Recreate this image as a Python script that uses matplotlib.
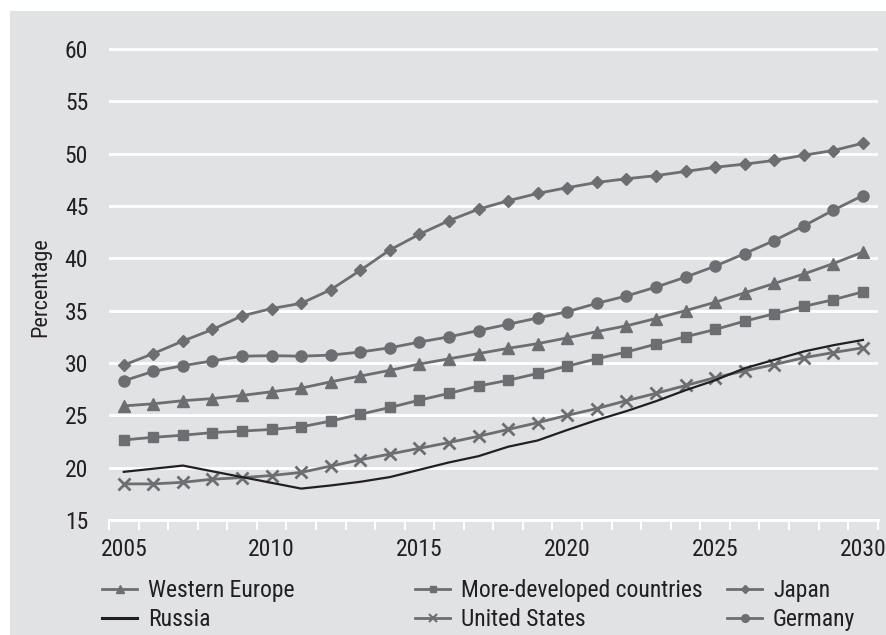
import matplotlib
matplotlib.use('Agg')
import matplotlib.pyplot as plt
from matplotlib.patches import Rectangle
from matplotlib.lines import Line2D
from matplotlib import font_manager
import numpy as np

years = list(range(2005, 2031))
western_europe = [25.9, 26.1, 26.4, 26.6, 26.9, 27.25, 27.6, 28.2, 28.75, 29.3, 29.9, 30.4, 30.9,
                  31.4, 31.85, 32.4, 33.0, 33.55, 34.25, 35.0, 35.8, 36.7, 37.6, 38.5, 39.5, 40.6]
more_developed = [22.65, 22.9, 23.1, 23.35, 23.5, 23.65, 23.9, 24.45, 25.1, 25.75, 26.45, 27.1, 27.8,
                  28.35, 29.0, 29.7, 30.4, 31.05, 31.8, 32.5, 33.2, 34.0, 34.7, 35.4, 36.05, 36.8]
japan = [29.8, 30.9, 32.1, 33.2, 34.5, 35.2, 35.7, 37.0, 38.85, 40.8, 42.3, 43.6, 44.7,
         45.5, 46.2, 46.75, 47.25, 47.6, 47.9, 48.3, 48.7, 49.0, 49.35, 49.85, 50.3, 51.0]
russia = [19.6, 19.9, 20.2, 19.65, 19.1, 18.55, 18.0, 18.3, 18.65, 19.1, 19.8, 20.5, 21.1,
          22.0, 22.6, 23.6, 24.55, 25.4, 26.35, 27.4, 28.35, 29.5, 30.3, 31.1, 31.7, 32.2]
united_states = [18.45, 18.45, 18.6, 18.9, 19.05, 19.25, 19.55, 20.15, 20.75, 21.3, 21.85, 22.4, 23.0,
                 23.65, 24.3, 25.0, 25.65, 26.4, 27.1, 27.85, 28.6, 29.25, 29.85, 30.5, 31.0, 31.45]
germany = [28.3, 29.2, 29.75, 30.2, 30.65, 30.7, 30.65, 30.75, 31.05, 31.45, 32.0, 32.5, 33.1,
           33.7, 34.3, 34.9, 35.7, 36.4, 37.25, 38.2, 39.25, 40.45, 41.7, 43.1, 44.6, 46.0]
y_ticks = [15, 20, 25, 30, 35, 40, 45, 50, 55, 60]
x_labels = [2005, 2010, 2015, 2020, 2025, 2030]
y_label = 'Percentage'

# choose a narrow sans font if one is installed
names = {f.name for f in font_manager.fontManager.ttflist}
narrow = None
for cand in ['Liberation Sans Narrow', 'Arial Narrow', 'Roboto Condensed',
             'Open Sans Condensed', 'Noto Sans Condensed']:
    if cand in names:
        narrow = cand
        break
if narrow is not None:
    plt.rcParams['font.family'] = [narrow, 'DejaVu Sans']
    FS = 17
else:
    plt.rcParams['font.family'] = ['Liberation Sans', 'DejaVu Sans']
    FS = 14.5

BG = '#e1e2e4'
GRAY = '#6d6e71'
TXT = '#231f20'

W, H = 886, 635
fig = plt.figure(figsize=(W / 100, H / 100), dpi=100)
fig.patch.set_facecolor('white')
fig.add_artist(Rectangle((10 / W, 0), 1 - 10 / W, (H - 11) / H, transform=fig.transFigure,
                         facecolor=BG, edgecolor='none', zorder=0))

left, right = 109 / W, 877.7 / W
bottom, top = (H - 520) / H, (H - 38.5) / H
ax = fig.add_axes([left, bottom, right - left, top - bottom])
ax.set_facecolor(BG)
ax.set_xlim(2004.5, 2030.5)
ax.set_ylim(15, 61)

for s in ['top', 'right', 'left']:
    ax.spines[s].set_visible(False)
ax.spines['bottom'].set_color('white')
ax.spines['bottom'].set_linewidth(2)

ax.set_yticks(y_ticks)
ax.set_yticklabels([str(v) for v in y_ticks])
ax.yaxis.grid(True, color='white', linewidth=2)
ax.set_axisbelow(True)
ax.tick_params(axis='y', length=0, pad=15, labelsize=FS, labelcolor=TXT)

ax.set_xticks(np.arange(2004.5, 2030.6, 1))
ax.set_xticklabels([])
ax.tick_params(axis='x', which='major', color='white', length=7, width=1.5, direction='out')
ax.set_xticks(x_labels, minor=True)
ax.set_xticklabels([str(v) for v in x_labels], minor=True)
ax.tick_params(axis='x', which='minor', length=0, pad=13, labelsize=FS, labelcolor=TXT)

lw = 2.0
ms = 7
ax.plot(years, western_europe, color=GRAY, lw=lw, marker='^', ms=ms + 1, label='Western Europe')
ax.plot(years, more_developed, color=GRAY, lw=lw, marker='s', ms=ms - 0.5, label='More-developed countries')
ax.plot(years, japan, color=GRAY, lw=lw, marker='D', ms=ms - 0.5, label='Japan')
ax.plot(years, united_states, color=GRAY, lw=lw, marker='x', ms=ms + 1, mew=2, label='United States')
ax.plot(years, germany, color=GRAY, lw=lw, marker='o', ms=ms + 1, label='Germany')
ax.plot(years, russia, color=TXT, lw=1.6, label='Russia', zorder=3)

fig.text(41 / W, (H - 287.5) / H, y_label, rotation=90, ha='center', va='center',
         fontsize=FS - 1, color=TXT)


def lh(marker, color=GRAY, ms=4.5, lw=2.0, mew=1.0):
    return Line2D([], [], color=color, lw=lw, marker=marker, ms=ms, mew=mew)


cols = [
    (102, [lh('^', ms=6), lh(None, color=TXT, lw=2.2)], ['Western Europe', 'Russia']),
    (415, [lh('s', ms=5), lh('x', ms=6, mew=1.5)], ['More-developed countries', 'United States']),
    (727, [lh('D', ms=4.5), lh('o', ms=5.5)], ['Japan', 'Germany']),
]
for x0, hs, labs in cols:
    leg = fig.legend(hs, labs, loc='upper left', bbox_to_anchor=(x0 / W, (H - 579) / H),
                     frameon=False, fontsize=FS, handlelength=25.2 / FS,
                     handletextpad=8.0 / FS, labelspacing=0.25 * 17 / FS,
                     borderpad=0, borderaxespad=0)
    for t in leg.get_texts():
        t.set_color(TXT)

fig.savefig('out.png', dpi=100)
